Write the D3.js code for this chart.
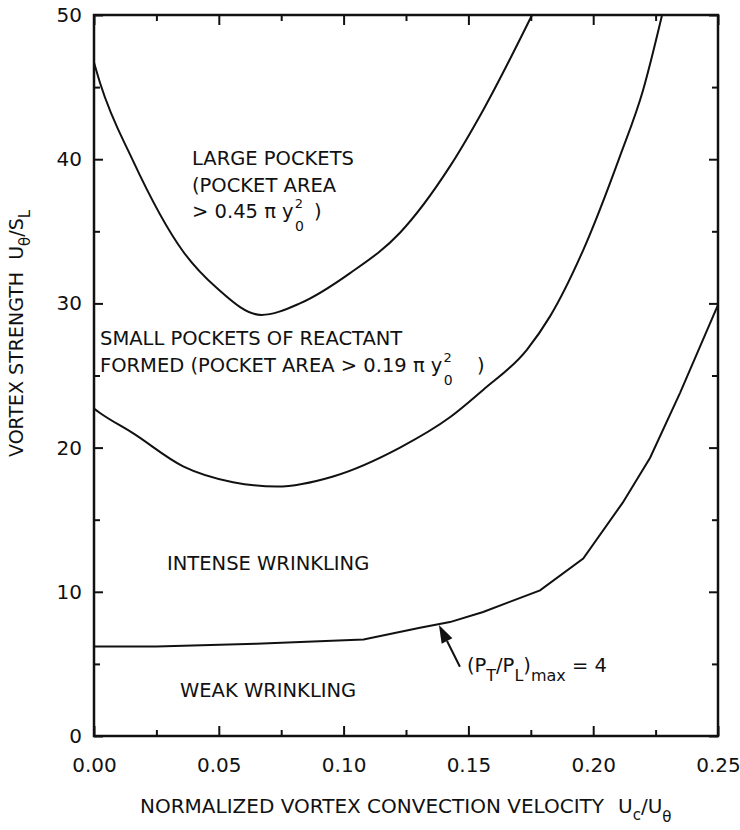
<!DOCTYPE html>
<html>
<head>
<meta charset="utf-8">
<script src="https://cdn.jsdelivr.net/npm/d3@7"></script>
<style>
  body { margin: 0; background: #fff; }
  text { font-family: "DejaVu Sans", sans-serif; fill: #111; white-space: pre; }
  .curve { fill: none; stroke: #111; stroke-width: 2; }
  .axis path, .axis line { stroke: #111; }
</style>
</head>
<body>
<div id="chart"></div>
<script>
// boundary curves
var largeX = [0, 0.0024, 0.0156, 0.0357, 0.049, 0.0670, 0.0825, 0.1026, 0.1226, 0.1426, 0.1559, 0.1755];
var largeY = [46.7, 45.3, 39.9, 33.6, 31.1, 29.2, 30.0, 32.1, 34.9, 39.5, 43.4, 50];

var smallX = [0, 0.0024, 0.0156, 0.0357, 0.0557, 0.0733, 0.0958, 0.1226, 0.1426, 0.1559, 0.1735, 0.1827, 0.1960, 0.2107, 0.2200, 0.2276];
var smallY = [22.7, 22.4, 21.0, 18.7, 17.6, 17.3, 18.0, 20.0, 22.1, 24.0, 26.8, 29.1, 33.7, 40.2, 44.8, 50];

var weakX = [0, 0.025, 0.065, 0.108, 0.1306, 0.1426, 0.1559, 0.1787, 0.196, 0.2119, 0.2228, 0.2348, 0.25];
var weakY = [6.2, 6.2, 6.4, 6.7, 7.5, 7.9, 8.6, 10.1, 12.3, 16.2, 19.3, 23.8, 29.9];

var xTicks = [0, 0.05, 0.10, 0.15, 0.20, 0.25];
var xMinor = [0.025, 0.075, 0.125, 0.175, 0.225];
var yTicks = [0, 10, 20, 30, 40, 50];
var yMinor = [5, 15, 25, 35, 45];

var margin = {top: 15, right: 22, bottom: 94, left: 94},
    width = 740 - margin.left - margin.right,
    height = 830 - margin.top - margin.bottom;

var x = d3.scaleLinear().domain([0, 0.25]).range([0, width]);
var y = d3.scaleLinear().domain([0, 50]).range([height, 0]);

var svg = d3.select("#chart").append("svg")
    .attr("width", 740)
    .attr("height", 830)
  .append("g")
    .attr("transform", "translate(" + margin.left + "," + margin.top + ")");

// frame
svg.append("rect")
    .attr("width", width).attr("height", height)
    .attr("fill", "none").attr("stroke", "#111").attr("stroke-width", 2.5);

// inward ticks, all four sides
function ticks(axisFn, vals, size, tr) {
  var g = svg.append("g").attr("class", "axis").attr("transform", tr)
      .call(axisFn.tickValues(vals).tickSize(size).tickFormat(""));
  g.select(".domain").remove();
  g.selectAll("line").attr("stroke-width", 2);
  return g;
}
ticks(d3.axisTop(x), xTicks, 10, "translate(0," + height + ")");
ticks(d3.axisTop(x), xMinor, 6, "translate(0," + height + ")");
ticks(d3.axisBottom(x), xTicks, 10, "translate(0,0)");
ticks(d3.axisBottom(x), xMinor, 6, "translate(0,0)");
ticks(d3.axisRight(y), yTicks, 9, "translate(0,0)");
ticks(d3.axisRight(y), yMinor, 6, "translate(0,0)");
ticks(d3.axisLeft(y), yTicks, 9, "translate(" + width + ",0)");
ticks(d3.axisLeft(y), yMinor, 6, "translate(" + width + ",0)");

// tick labels
var xl = svg.append("g").attr("class", "axis")
    .attr("transform", "translate(0," + height + ")")
    .call(d3.axisBottom(x).tickValues(xTicks).tickSize(0).tickPadding(22).tickFormat(d3.format(".2f")));
xl.select(".domain").remove();
xl.selectAll("text").style("font-size", "20px").style("font-family", "DejaVu Sans, sans-serif").attr("fill", "#111");

var yl = svg.append("g").attr("class", "axis")
    .call(d3.axisLeft(y).tickValues(yTicks).tickSize(0).tickPadding(12).tickFormat(d3.format("d")));
yl.select(".domain").remove();
yl.selectAll("text").style("font-size", "20px").style("font-family", "DejaVu Sans, sans-serif").attr("fill", "#111");

// curves
function pts(xs, ys) { return xs.map(function(d, i) { return [d, ys[i]]; }); }
var smooth = d3.line().x(function(d) { return x(d[0]); }).y(function(d) { return y(d[1]); })
    .curve(d3.curveMonotoneX);
var straight = d3.line().x(function(d) { return x(d[0]); }).y(function(d) { return y(d[1]); });

svg.append("path").datum(pts(largeX, largeY)).attr("class", "curve").attr("d", smooth);
svg.append("path").datum(pts(smallX, smallY)).attr("class", "curve").attr("d", smooth);
svg.append("path").datum(pts(weakX, weakY)).attr("class", "curve").attr("d", straight);

// region labels
var fs = 19.5;
function label(px, py, parts) {
  var t = svg.append("text").attr("x", px).attr("y", py).style("font-size", fs + "px");
  parts.forEach(function(p) {
    var s = t.append("tspan").text(p.t);
    if (p.dy) s.attr("dy", p.dy);
    if (p.dx) s.attr("dx", p.dx);
    if (p.fs) s.style("font-size", p.fs + "px");
  });
  return t;
}
label(98, 150, [{t: "LARGE POCKETS"}]);
label(98, 177, [{t: "(POCKET AREA"}]);
label(98, 203, [{t: "> 0.45 \u03c0 y"}, {t: "2", dy: -10, dx: 1, fs: 13}, {t: "0", dy: 23, dx: -8, fs: 14}, {t: " )", dy: -13, dx: 4}]);

label(6, 330, [{t: "SMALL POCKETS OF REACTANT"}]);
label(6, 357, [{t: "FORMED (POCKET AREA > 0.19 \u03c0 y"}, {t: "2", dy: -10, dx: 1, fs: 13}, {t: "0", dy: 23, dx: -8, fs: 14}, {t: "  )", dy: -13, dx: 12}]);

label(73, 555, [{t: "INTENSE WRINKLING"}]);
label(86, 682, [{t: "WEAK WRINKLING"}]);

// (PT/PL)max annotation with arrow
var tip = [0.1382, 7.7], tail = [0.1466, 4.8];
var ax0 = x(tail[0]), ay0 = y(tail[1]), ax1 = x(tip[0]), ay1 = y(tip[1]);
var ang = Math.atan2(ay1 - ay0, ax1 - ax0);
var hl = 18, hw = 6;
var bx = ax1 - hl * Math.cos(ang), by = ay1 - hl * Math.sin(ang);
svg.append("line").attr("x1", ax0).attr("y1", ay0).attr("x2", bx).attr("y2", by)
    .attr("stroke", "#111").attr("stroke-width", 2);
svg.append("path")
    .attr("d", "M" + ax1 + "," + ay1 +
      "L" + (bx + hw * Math.sin(ang)) + "," + (by - hw * Math.cos(ang)) +
      "L" + (bx - hw * Math.sin(ang)) + "," + (by + hw * Math.cos(ang)) + "Z")
    .attr("fill", "#111");

label(x(0.1494), y(4.45), [{t: "(P"}, {t: "T", dy: 9, fs: 16}, {t: "/P", dy: -9}, {t: "L", dy: 9, fs: 16}, {t: ")", dy: -9}, {t: "max", dy: 9, fs: 16}, {t: " = 4", dy: -9}]);

// axis titles
svg.append("text")
    .attr("x", 46).attr("y", 813 - margin.top)
    .style("font-size", "20px")
    .call(function(t) {
      t.append("tspan").text("NORMALIZED VORTEX CONVECTION VELOCITY");
      t.append("tspan").text("U").attr("dx", 14);
      t.append("tspan").text("c").attr("dy", 7).style("font-size", "15px");
      t.append("tspan").text("/U").attr("dy", -7);
      t.append("tspan").text("\u03b8").attr("dy", 9).style("font-size", "15px");
    });

svg.append("text")
    .attr("transform", "translate(" + (23 - margin.left) + "," + (457 - margin.top) + ") rotate(-90)")
    .style("font-size", "19px")
    .call(function(t) {
      t.append("tspan").text("VORTEX STRENGTH");
      t.append("tspan").text("U").attr("dx", 12);
      t.append("tspan").text("\u03b8").attr("dy", 7).style("font-size", "15px");
      t.append("tspan").text("/S").attr("dy", -7);
      t.append("tspan").text("L").attr("dy", 7).style("font-size", "15px");
    });
</script>
</body>
</html>
